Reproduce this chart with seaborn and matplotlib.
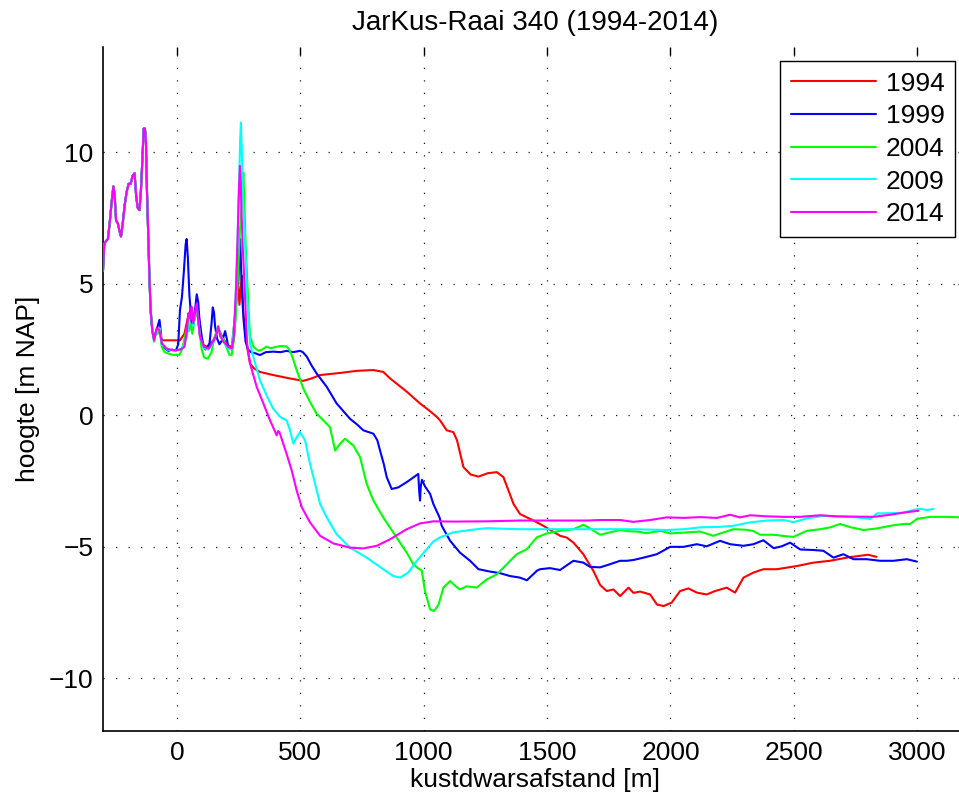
import numpy as np
import pandas as pd
import matplotlib
matplotlib.use("Agg")
import matplotlib.pyplot as plt
import seaborn as sns

years = ["1994", "1999", "2004", "2009", "2014"]
colors = ["#ff0000", "#0000ff", "#00ff00", "#00ffff", "#ff00ff"]

# shared dune crest (all years coincide here)
dune_x = [-300, -295, -290, -280, -272, -265, -258, -253, -247, -240, -233, -227, -220, -212,
          -204, -196, -188, -180, -172, -166, -160, -152, -146, -140, -135, -130, -126, -122,
          -117, -112, -107, -100]
dune_y = [5.5, 6.5, 6.6, 6.7, 7.4, 8.1, 8.7, 8.4, 7.4, 7.3, 7.0, 6.8, 7.3, 8.0,
          8.5, 8.8, 8.8, 9.1, 9.2, 8.4, 7.9, 7.8, 8.6, 9.8, 10.9, 10.9, 10.4, 8.6,
          7.0, 5.3, 4.0, 3.2]

x_1994 = [-93, -82, -72, -62, -30, 12, 30, 46, 59, 66, 80, 93, 109, 128, 150, 167, 188, 208, 222,
          235, 242, 248, 253, 258, 263, 268, 275, 284, 296, 310, 336, 390, 458, 512, 545, 580, 661,
          728, 796, 836, 864, 931, 985, 1020, 1053, 1066, 1093, 1120, 1135, 1161, 1190, 1222, 1260,
          1296, 1323, 1345, 1364, 1390, 1418, 1445, 1485, 1520, 1553, 1580, 1607, 1647, 1688, 1715,
          1742, 1769, 1796, 1830, 1850, 1877, 1918, 1945, 1972, 2005, 2039, 2073, 2107, 2147, 2181,
          2228, 2262, 2296, 2336, 2377, 2431, 2471, 2512, 2580, 2647, 2715, 2769, 2800, 2835]
y_1994 = [2.9, 3.2, 3.3, 2.85, 2.85, 2.85, 3.1, 3.8, 4.1, 3.5, 4.2, 3.0, 2.65, 2.6, 2.9, 3.3, 2.9,
          2.65, 2.6, 3.8, 4.5, 5.0, 4.2, 4.8, 5.3, 4.0, 3.3, 2.6, 1.97, 1.8, 1.65, 1.53, 1.40, 1.31,
          1.4, 1.53, 1.61, 1.69, 1.72, 1.65, 1.40, 0.9, 0.45, 0.2, -0.06, -0.19, -0.57, -0.64, -0.95,
          -1.97, -2.25, -2.33, -2.2, -2.16, -2.35, -2.9, -3.37, -3.75, -3.88, -4.0, -4.2, -4.4,
          -4.58, -4.65, -4.84, -5.28, -5.92, -6.45, -6.68, -6.62, -6.87, -6.55, -6.75, -6.7, -6.81,
          -7.19, -7.25, -7.12, -6.68, -6.58, -6.74, -6.81, -6.68, -6.55, -6.74, -6.17, -5.98, -5.85,
          -5.85, -5.79, -5.73, -5.6, -5.53, -5.41, -5.34, -5.3, -5.38]

x_1999 = [-93, -85, -78, -71, -66, -62, -50, -35, -20, -5, 5, 12, 20, 28, 35, 39, 44, 50, 55, 59,
          66, 73, 80, 86, 90, 100, 108, 116, 124, 132, 140, 145, 150, 154, 163, 172, 186, 195, 202,
          208, 222, 230, 235, 240, 244, 248, 252, 256, 260, 264, 270, 278, 288, 300, 320, 336, 360,
          390, 420, 444, 470, 499, 510, 526, 545, 566, 607, 647, 675, 701, 730, 755, 796, 812, 823,
          838, 850, 870, 897, 931, 960, 978, 981, 985, 988, 993, 1005, 1026, 1039, 1064, 1073, 1107,
          1147, 1188, 1222, 1269, 1309, 1350, 1390, 1418, 1437, 1460, 1472, 1512, 1553, 1580, 1607,
          1647, 1674, 1715, 1755, 1796, 1823, 1850, 1891, 1945, 1999, 2053, 2107, 2147, 2201, 2242,
          2296, 2336, 2377, 2418, 2451, 2485, 2526, 2580, 2620, 2661, 2701, 2742, 2796, 2850, 2904,
          2958, 2999]
y_1999 = [2.9, 3.2, 3.4, 3.63, 3.2, 2.74, 2.55, 2.45, 2.5, 2.45, 2.7, 4.0, 4.5, 5.5, 6.5, 6.7, 6.0,
          4.6, 4.0, 3.5, 3.6, 4.0, 4.6, 4.3, 3.75, 3.0, 2.6, 2.5, 2.6, 2.75, 3.5, 4.1, 3.9, 3.4,
          2.9, 2.7, 2.9, 3.2, 2.9, 2.6, 2.5, 2.9, 3.5, 4.6, 5.3, 5.0, 5.8, 6.7, 5.5, 4.6, 3.6, 2.8,
          2.5, 2.4, 2.35, 2.29, 2.4, 2.42, 2.4, 2.45, 2.4, 2.45, 2.4, 2.23, 1.9, 1.59, 1.08, 0.45,
          0.15, -0.13, -0.35, -0.57, -0.7, -0.95, -1.34, -1.85, -2.35, -2.8, -2.74, -2.54, -2.35,
          -2.23, -2.8, -3.24, -2.7, -2.45, -2.7, -2.99, -3.37, -3.88, -4.2, -4.77, -5.22, -5.53,
          -5.85, -5.94, -6.0, -6.11, -6.17, -6.27, -6.1, -5.9, -5.85, -5.81, -5.88, -5.7, -5.53,
          -5.6, -5.76, -5.78, -5.66, -5.53, -5.53, -5.5, -5.41, -5.28, -5.0, -5.0, -4.9, -4.98,
          -4.77, -4.9, -4.96, -4.9, -4.75, -5.05, -4.98, -4.84, -5.1, -5.12, -5.15, -5.41, -5.28,
          -5.47, -5.47, -5.53, -5.53, -5.47, -5.56]

x_2004 = [-93, -85, -78, -70, -62, -50, -35, -20, -5, 10, 20, 30, 39, 48, 55, 62, 70, 80, 90, 100,
          110, 125, 140, 150, 158, 167, 175, 188, 200, 212, 222, 232, 240, 248, 255, 262, 266, 269,
          273, 278, 284, 290, 296, 310, 330, 345, 363, 380, 400, 418, 444, 455, 465, 485, 512, 539,
          566, 593, 620, 641, 661, 681, 715, 742, 769, 796, 836, 890, 931, 958, 975, 992, 1005, 1026,
          1042, 1060, 1080, 1107, 1130, 1147, 1174, 1215, 1255, 1296, 1337, 1377, 1418, 1458, 1499,
          1553, 1607, 1647, 1674, 1715, 1755, 1796, 1823, 1864, 1904, 1958, 1999, 2066, 2120, 2174,
          2215, 2255, 2309, 2336, 2363, 2418, 2471, 2499, 2553, 2607, 2647, 2688, 2728, 2783, 2837,
          2891, 2945, 2972, 2999, 3053, 3120, 3174]
y_2004 = [2.8, 3.2, 3.1, 3.3, 2.6, 2.4, 2.35, 2.3, 2.3, 2.3, 2.5, 2.9, 3.3, 3.2, 3.5, 3.1, 3.6,
          4.0, 3.3, 2.5, 2.2, 2.15, 2.4, 2.9, 3.1, 3.4, 3.0, 2.9, 2.6, 2.3, 2.3, 3.0, 4.0, 5.5, 7.0,
          8.0, 8.8, 9.22, 8.0, 6.5, 5.28, 4.0, 3.0, 2.6, 2.45, 2.5, 2.61, 2.55, 2.6, 2.63, 2.62,
          2.5, 2.29, 1.72, 1.02, 0.51, 0.06, -0.19, -0.45, -1.34, -1.08, -0.89, -1.15, -1.59,
          -2.61, -3.24, -3.88, -4.64, -5.22, -5.66, -5.8, -5.9, -6.68, -7.38, -7.44, -7.2, -6.55,
          -6.3, -6.5, -6.62, -6.5, -6.55, -6.24, -6.05, -5.66, -5.28, -5.09, -4.64, -4.49, -4.39,
          -4.33, -4.16, -4.3, -4.54, -4.45, -4.36, -4.4, -4.42, -4.48, -4.39, -4.49, -4.45, -4.42,
          -4.58, -4.45, -4.33, -4.35, -4.4, -4.54, -4.54, -4.6, -4.62, -4.39, -4.33, -4.26, -4.13,
          -4.25, -4.36, -4.3, -4.2, -4.13, -4.13, -3.94, -3.86, -3.86, -3.88]

x_2009 = [-93, -80, -70, -62, -40, -10, 10, 25, 40, 50, 59, 66, 80, 93, 109, 128, 150, 167, 188,
          208, 222, 235, 245, 252, 256, 259, 263, 268, 276, 284, 296, 309, 336, 363, 390, 418, 444,
          458, 472, 485, 499, 519, 539, 560, 580, 607, 647, 701, 769, 836, 877, 904, 937, 972, 1012,
          1039, 1066, 1120, 1188, 1255, 1390, 1526, 1661, 1796, 1850, 1985, 2053, 2120, 2201, 2255,
          2323, 2391, 2458, 2499, 2553, 2620, 2688, 2756, 2810, 2837, 2891, 2945, 2985, 3012, 3039,
          3066]
y_2009 = [2.9, 3.2, 3.3, 2.7, 2.5, 2.45, 2.5, 2.6, 3.0, 3.7, 4.0, 3.4, 4.2, 3.0, 2.55, 2.5, 2.8,
          3.3, 2.8, 2.55, 2.5, 3.8, 6.5, 9.0, 10.5, 11.13, 10.0, 8.0, 6.55, 4.5, 2.73, 2.23, 1.34,
          0.76, 0.25, -0.06, -0.19, -0.57, -1.08, -0.83, -0.64, -0.95, -1.84, -2.61, -3.37, -3.88,
          -4.52, -5.03, -5.41, -5.85, -6.11, -6.17, -5.98, -5.53, -5.09, -4.8, -4.64, -4.45, -4.36,
          -4.29, -4.33, -4.33, -4.33, -4.33, -4.33, -4.36, -4.33, -4.26, -4.24, -4.2, -4.07, -4.0,
          -3.98, -4.06, -3.92, -3.82, -3.85, -3.88, -3.94, -3.73, -3.72, -3.7, -3.6, -3.55, -3.6,
          -3.56]

x_2014 = [-93, -82, -71, -62, -42, -21, -2, 15, 30, 40, 46, 52, 59, 66, 73, 80, 86, 93, 109, 128,
          150, 160, 167, 176, 188, 208, 222, 230, 235, 240, 245, 250, 255, 258, 261, 266, 272, 278,
          284, 296, 323, 350, 377, 404, 410, 415, 424, 444, 465, 485, 506, 539, 580, 634, 701, 755,
          810, 864, 931, 985, 1039, 1120, 1255, 1390, 1526, 1661, 1715, 1796, 1850, 1918, 1985, 2053,
          2120, 2188, 2242, 2282, 2323, 2391, 2458, 2526, 2607, 2674, 2742, 2823, 2891, 2958, 3005]
y_2014 = [2.86, 3.31, 3.24, 2.74, 2.54, 2.48, 2.48, 2.5, 2.6, 3.2, 3.88, 3.7, 4.13, 3.5, 3.9, 4.26,
          3.6, 2.99, 2.6, 2.54, 2.86, 3.1, 3.37, 3.0, 2.8, 2.6, 2.54, 3.0, 4.0, 5.0, 6.55, 8.3, 9.48,
          9.0, 7.82, 6.5, 5.28, 4.0, 2.73, 1.97, 1.08, 0.45, -0.19, -0.76, -0.6, -0.64, -0.89, -1.46,
          -2.1, -2.86, -3.5, -4.07, -4.58, -4.87, -5.03, -5.06, -4.96, -4.71, -4.33, -4.11, -4.03,
          -4.04, -4.03, -4.0, -4.0, -4.0, -3.98, -3.98, -4.05, -3.98, -3.88, -3.9, -3.87, -3.9,
          -3.78, -3.88, -3.8, -3.84, -3.86, -3.86, -3.8, -3.84, -3.85, -3.86, -3.78, -3.68, -3.63]

x_ticks = [0, 500, 1000, 1500, 2000, 2500, 3000]
y_ticks = [-10, -5, 0, 5, 10]

series = {"1994": (x_1994, y_1994), "1999": (x_1999, y_1999), "2004": (x_2004, y_2004),
          "2009": (x_2009, y_2009), "2014": (x_2014, y_2014)}

frames = []
for yr, (xs, ys) in series.items():
    frames.append(pd.DataFrame({"x": dune_x + xs, "y": dune_y + ys, "year": yr}))
df = pd.concat(frames, ignore_index=True)

sns.set_theme(style="white")
plt.rcParams["font.family"] = ["Liberation Sans", "DejaVu Sans"]
plt.rcParams["axes.unicode_minus"] = True
for k in ["text.color", "axes.labelcolor", "xtick.color", "ytick.color", "axes.edgecolor"]:
    plt.rcParams[k] = "black"

FS = 19

fig = plt.figure(figsize=(9.59, 8.0), dpi=100)
ax = fig.add_axes([103 / 959, 1 - 731 / 800, (966.5 - 103) / 959, (731 - 47) / 800])

sns.lineplot(data=df, x="x", y="y", hue="year", hue_order=years,
             palette=dict(zip(years, colors)), sort=False, estimator=None,
             linewidth=1.5, ax=ax, zorder=3)

ax.set_xlim(-300, 3200)
ax.set_ylim(-12, 14)
ax.set_xticks(x_ticks)
ax.set_yticks(y_ticks)
ax.grid(True, color="0.1", linestyle=(0, (1, 9)), linewidth=0.9)
ax.set_axisbelow(True)

for s in ["top", "right"]:
    ax.spines[s].set_visible(False)
for s in ["left", "bottom"]:
    ax.spines[s].set_visible(True)
    ax.spines[s].set_color("black")
    ax.spines[s].set_linewidth(1.2)

ax.tick_params(direction="in", length=6, width=1, colors="black", labelcolor="black",
               top=True, right=True, labelsize=FS, pad=7)

ax.set_title("JarKus-Raai 340 (1994-2014)", fontsize=20, pad=12, color="black")
ax.set_xlabel("kustdwarsafstand [m]", fontsize=FS, labelpad=2, color="black")
ax.set_ylabel("hoogte [m NAP]", fontsize=FS, labelpad=6, color="black")

handles, labels = ax.get_legend_handles_labels()
leg = ax.legend(handles, labels, loc="upper right", bbox_to_anchor=(0.9867, 0.9795),
                borderaxespad=0, fontsize=FS, frameon=True, fancybox=False, shadow=False,
                framealpha=1, edgecolor="black", handlelength=3.25, handletextpad=0.35,
                labelspacing=0.33, borderpad=0.4, title=None)
leg.get_frame().set_linewidth(1.0)
for lh in leg.get_lines():
    lh.set_linewidth(1.5)
for t in leg.get_texts():
    t.set_color("black")

fig.savefig("out.png", dpi=100)
